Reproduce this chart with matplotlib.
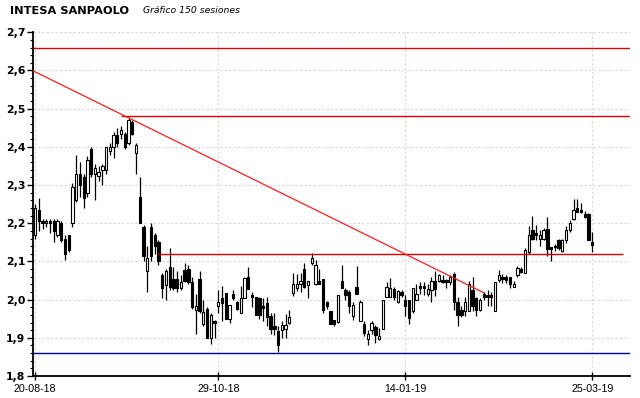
import matplotlib
matplotlib.use('Agg')
import matplotlib.pyplot as plt
import numpy as np
from matplotlib.ticker import MultipleLocator, FuncFormatter

# daily sessions: open, high, low, close
opens = [
    2.170, 2.235, 2.205, 2.200, 2.205, 2.205, 2.170, 2.200, 2.160, 2.170,
    2.200, 2.260, 2.330, 2.320, 2.280, 2.395, 2.330, 2.325, 2.340, 2.340,
    2.390, 2.400, 2.430, 2.435, 2.435, 2.410, 2.465, 2.385, 2.270, 2.190,
    2.075, 2.190, 2.170, 2.150, 2.065, 2.038, 2.085, 2.055, 2.055, 2.030,
    2.078, 2.080, 2.045, 1.972, 2.055, 1.935, 1.976, 1.900, 1.945, 1.982,
    2.004, 2.017, 1.950, 2.015, 1.995, 1.966, 2.003, 2.058, 2.012, 2.008,
    2.004, 1.982, 1.990, 1.957, 1.930, 1.918, 1.920, 1.922, 1.940, 2.017,
    2.030, 2.040, 2.080, 2.038, 2.095, 2.040, 2.050, 2.055, 1.995, 1.970,
    1.947, 1.942, 2.050, 2.025, 2.020, 1.956, 2.034, 1.943, 1.935, 1.898,
    1.920, 1.928, 1.896, 1.922, 2.008, 2.008, 2.027, 1.995, 2.020, 2.000,
    2.000, 1.970, 2.000, 2.035, 2.035, 2.016, 2.025, 2.050, 2.050, 2.051,
    2.051, 2.047, 2.067, 1.993, 1.974, 1.970, 1.970, 2.025, 2.004, 1.974,
    2.015, 2.012, 2.012, 1.970, 2.051, 2.058, 2.059, 2.059, 2.034, 2.065,
    2.080, 2.070, 2.126, 2.183, 2.174, 2.160, 2.160, 2.184, 2.137, 2.140,
    2.156, 2.128, 2.155, 2.183, 2.210, 2.240, 2.235, 2.224, 2.224, 2.150,
]
highs = [
    2.250, 2.265, 2.210, 2.210, 2.210, 2.210, 2.210, 2.205, 2.170, 2.170,
    2.305, 2.380, 2.360, 2.330, 2.375, 2.400, 2.355, 2.350, 2.355, 2.400,
    2.410, 2.440, 2.450, 2.455, 2.440, 2.475, 2.470, 2.410, 2.320, 2.195,
    2.140, 2.200, 2.175, 2.155, 2.070, 2.080, 2.135, 2.085, 2.075, 2.065,
    2.095, 2.090, 2.060, 2.014, 2.075, 2.000, 1.980, 1.965, 1.947, 2.025,
    2.035, 2.017, 1.987, 2.025, 1.997, 2.035, 2.060, 2.085, 2.020, 2.008,
    2.008, 2.004, 2.008, 1.965, 1.965, 1.930, 1.945, 1.963, 1.974, 2.070,
    2.068, 2.070, 2.095, 2.050, 2.122, 2.105, 2.080, 2.055, 1.997, 1.970,
    1.947, 2.012, 2.090, 2.030, 2.025, 1.995, 2.087, 1.999, 1.943, 1.920,
    1.943, 1.934, 1.926, 2.000, 2.047, 2.056, 2.034, 2.025, 2.026, 2.013,
    2.000, 2.030, 2.042, 2.046, 2.045, 2.041, 2.060, 2.075, 2.068, 2.064,
    2.053, 2.064, 2.073, 2.008, 1.983, 2.008, 2.050, 2.060, 2.008, 2.004,
    2.021, 2.025, 2.020, 2.047, 2.077, 2.068, 2.064, 2.059, 2.050, 2.088,
    2.085, 2.134, 2.192, 2.218, 2.196, 2.183, 2.187, 2.217, 2.139, 2.145,
    2.160, 2.158, 2.192, 2.208, 2.263, 2.263, 2.253, 2.233, 2.226, 2.176,
]
lows = [
    2.160, 2.180, 2.185, 2.190, 2.175, 2.150, 2.165, 2.150, 2.105, 2.125,
    2.190, 2.255, 2.270, 2.240, 2.270, 2.320, 2.260, 2.310, 2.300, 2.330,
    2.380, 2.370, 2.400, 2.420, 2.395, 2.405, 2.430, 2.330, 2.200, 2.100,
    2.020, 2.100, 2.120, 2.090, 2.005, 2.000, 2.025, 2.025, 2.020, 2.025,
    2.045, 2.040, 1.975, 1.910, 1.965, 1.930, 1.900, 1.885, 1.900, 1.965,
    1.945, 1.950, 1.940, 2.000, 1.973, 1.966, 2.003, 2.027, 1.980, 1.960,
    1.950, 1.945, 1.930, 1.910, 1.908, 1.862, 1.900, 1.900, 1.937, 2.010,
    2.022, 2.020, 2.030, 2.004, 2.090, 2.038, 2.040, 1.965, 1.975, 1.935,
    1.930, 1.940, 2.030, 1.998, 1.965, 1.947, 2.016, 1.943, 1.905, 1.880,
    1.910, 1.887, 1.894, 1.922, 2.008, 2.008, 1.999, 1.990, 2.008, 1.957,
    1.935, 1.966, 2.000, 2.016, 2.013, 2.010, 1.995, 2.010, 2.045, 2.043,
    2.030, 2.038, 1.974, 1.930, 1.955, 1.957, 1.970, 1.970, 1.957, 1.970,
    2.000, 1.982, 1.982, 1.970, 2.047, 2.043, 2.043, 2.030, 2.034, 2.060,
    2.070, 2.070, 2.120, 2.156, 2.156, 2.140, 2.156, 2.113, 2.100, 2.128,
    2.130, 2.126, 2.148, 2.178, 2.208, 2.230, 2.227, 2.214, 2.156, 2.126,
]
closes = [
    2.240, 2.205, 2.200, 2.205, 2.200, 2.180, 2.205, 2.155, 2.120, 2.130,
    2.295, 2.330, 2.300, 2.265, 2.365, 2.330, 2.345, 2.335, 2.350, 2.400,
    2.400, 2.430, 2.410, 2.445, 2.400, 2.470, 2.435, 2.405, 2.200, 2.115,
    2.110, 2.115, 2.140, 2.100, 2.030, 2.075, 2.032, 2.030, 2.030, 2.045,
    2.050, 2.045, 1.980, 1.984, 1.970, 1.967, 1.900, 1.960, 1.940, 1.995,
    1.990, 1.950, 1.987, 2.004, 1.975, 2.003, 2.056, 2.027, 2.008, 1.960,
    1.960, 1.978, 1.955, 1.922, 1.922, 1.880, 1.934, 1.934, 1.954, 2.040,
    2.040, 2.048, 2.034, 2.048, 2.110, 2.090, 2.040, 1.974, 1.982, 1.937,
    1.935, 2.012, 2.030, 2.012, 1.982, 1.986, 2.016, 1.995, 1.913, 1.911,
    1.938, 1.908, 1.905, 2.000, 2.034, 2.030, 2.006, 2.023, 2.012, 1.982,
    1.952, 2.030, 2.016, 2.030, 2.030, 2.027, 2.050, 2.027, 2.064, 2.047,
    2.047, 2.060, 1.993, 1.961, 1.961, 1.995, 2.040, 1.982, 1.974, 2.000,
    2.008, 2.008, 2.008, 2.047, 2.064, 2.053, 2.052, 2.040, 2.040, 2.082,
    2.073, 2.130, 2.170, 2.160, 2.170, 2.170, 2.183, 2.132, 2.132, 2.137,
    2.135, 2.155, 2.183, 2.200, 2.235, 2.230, 2.230, 2.217, 2.156, 2.143,
]

date_ticks = [0, 49, 99, 149]
date_labels = ['20-08-18', '29-10-18', '14-01-19', '25-03-19']

# support / resistance levels with the session range they cover
levels = [2.66, 2.48, 2.12, 1.86]
level_start = [-0.5, 23.0, 33.0, -0.5]
level_end = [159.0, 159.0, 157.3, 159.0]
level_colors = ['#e00000', '#e00000', '#e00000', '#0000b0']

trend_x = [-0.7, 120.0]
trend_y = [2.600, 2.018]

o = np.array(opens)
h = np.array(highs)
l = np.array(lows)
c = np.array(closes)
x = np.arange(len(o))

fig = plt.figure(figsize=(6.4, 3.98), dpi=100)
ax = fig.add_axes([33 / 640, 1 - 376 / 398, 597 / 640, (376 - 32.3) / 398])

ax.set_xlim(-0.55, 159.1)
ax.set_ylim(1.8, 2.7)

ax.yaxis.set_major_locator(MultipleLocator(0.1))
ax.yaxis.set_minor_locator(MultipleLocator(0.02))
ax.yaxis.set_major_formatter(FuncFormatter(lambda v, p: f'{v:.1f}'.replace('.', ',')))
ax.set_xticks(date_ticks)
ax.set_xticklabels(date_labels, fontfamily='Liberation Sans', fontsize=7.7)
ax.tick_params(axis='y', which='major', direction='out', length=4, width=1, labelsize=7.8, pad=1.5)
ax.tick_params(axis='y', which='minor', direction='out', length=2, width=0.8)
ax.tick_params(axis='x', direction='inout', length=6, width=1, pad=3)
for lab in ax.get_yticklabels():
    lab.set_fontweight('bold')

ax.grid(True, which='major', color='#d6d6e0', linestyle=(0, (2, 2)), linewidth=0.8)
ax.set_axisbelow(True)
for side in ['top', 'right']:
    ax.spines[side].set_visible(False)
for side in ['left', 'bottom']:
    ax.spines[side].set_linewidth(1.3)

# candles: wicks first, bodies on top so hollow ones cover the wick
up = c >= o
ax.vlines(x, l, h, color='black', linewidth=0.9, zorder=2)
body_lo = np.minimum(o, c)
body_h = np.maximum(np.abs(c - o), 0.004)
ax.bar(x[up], body_h[up], bottom=body_lo[up], width=0.62, facecolor='white',
       edgecolor='black', linewidth=0.8, zorder=3)
ax.bar(x[~up], body_h[~up], bottom=body_lo[~up], width=0.62, facecolor='black',
       edgecolor='black', linewidth=0.8, zorder=3)

for price, x0, x1, col in zip(levels, level_start, level_end, level_colors):
    ax.hlines(price, x0, x1, color=col, linewidth=1.0, zorder=4)
ax.plot(trend_x, trend_y, color='#ff1a1a', linewidth=0.9, zorder=4)

fig.text(10 / 640, 1 - 10.5 / 398, 'INTESA SANPAOLO', fontsize=8.2, fontweight='bold',
         va='center', ha='left')
fig.text(143 / 640, 1 - 10.5 / 398, 'Gráfico 150 sesiones', fontsize=6.7, style='italic',
         va='center', ha='left')

fig.savefig('out.png', dpi=100, facecolor='white')
